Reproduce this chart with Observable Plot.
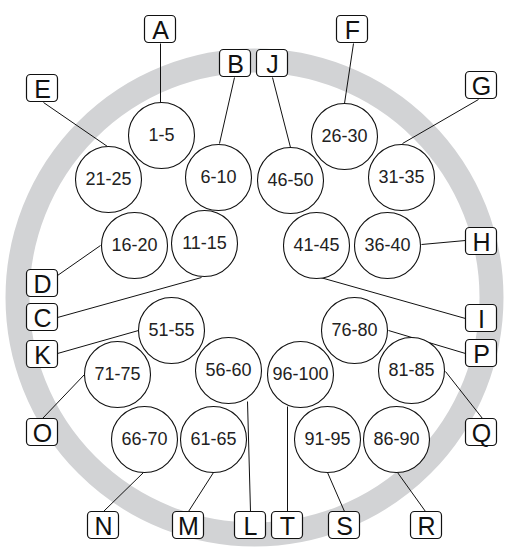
<!DOCTYPE html>
<html>
<head>
<meta charset="utf-8">
<script src="https://cdn.jsdelivr.net/npm/d3@7"></script>
<script src="https://cdn.jsdelivr.net/npm/@observablehq/plot@0.6"></script>
<style>
  html, body { margin: 0; padding: 0; background: #fff; }
  svg { display: block; }
</style>
</head>
<body>
<div id="chart"></div>
<script>
// Pin groups (circles)
const groupLabels = ["1-5","6-10","11-15","16-20","21-25","26-30","31-35","36-40","41-45","46-50",
                     "51-55","56-60","61-65","66-70","71-75","76-80","81-85","86-90","91-95","96-100"];
const groupX = [161,218,204,134,108,344,401,387,316,290, 171,228,213,144,117,354,411,396,327,300];
const groupY = [135,177,243,245,179,136,177,245,245,180, 330,370,439,439,374,330,370,439,439,374];

// Letter callouts (boxes)
const letters = ["A","B","C","D","E","F","G","H","I","J","K","L","M","N","O","P","Q","R","S","T"];
const letterX = [160,235,42,42,42,352,481,481,481,272,42,250,188,103,42,481,481,426,344,287];
const letterY = [29,63,317,283,88,29,85,241,318,63,354,525,525,525,432,353,432,525,525,525];

// Leader lines: letter -> point on circle
const leadX1 = [160,234,57,57,43,353,478,465,465,272,57,250,188,103,42,465,482,425,344,287];
const leadY1 = [43,77,317,275,102,43,99,240,318,77,353,511,511,511,418,353,418,511,511,511];
const leadX2 = [160,219,201,100,107,344,402,421,320,290,138,247,213,143,84,388,445,397,327,287];
const leadY2 = [102,143,277,245,146,103,143,244,277,147,330,401,472,472,374,330,371,472,472,406];

const ring = [{cx: 254, cy: 297}];

const groups = groupLabels.map((label, i) => ({label, x: groupX[i], y: groupY[i]}));
const boxes = letters.map((label, i) => ({label, x: letterX[i], y: letterY[i]}));
const leads = letters.map((label, i) => ({x1: leadX1[i], y1: leadY1[i], x2: leadX2[i], y2: leadY2[i]}));

const bw = 15.5, bh = 13.5;

const chart = Plot.plot({
  width: 510,
  height: 548,
  margin: 0,
  x: {domain: [0, 510], axis: null},
  y: {domain: [548, 0], axis: null},
  style: {fontFamily: "'Liberation Sans', Arial, sans-serif", background: "#fff"},
  marks: [
    Plot.dot(ring, {x: "cx", y: "cy", r: 237, stroke: "#d2d3d5", strokeWidth: 24, fill: "none"}),
    Plot.link(leads, {x1: "x1", y1: "y1", x2: "x2", y2: "y2", stroke: "#111", strokeWidth: 1}),
    Plot.dot(groups, {x: "x", y: "y", r: 33, fill: "#fff", stroke: "#111", strokeWidth: 1.1}),
    Plot.text(groups, {x: "x", y: "y", text: "label", fontSize: 18, fill: "#222"}),
    Plot.rect(boxes, {x1: d => d.x - bw, x2: d => d.x + bw, y1: d => d.y - bh, y2: d => d.y + bh,
                      fill: "#fff", stroke: "#111", strokeWidth: 1.2, rx: 4}),
    Plot.text(boxes, {x: "x", y: "y", text: "label", fontSize: 25, fill: "#111", dy: 1})
  ]
});
document.getElementById("chart").appendChild(chart);
</script>
</body>
</html>
